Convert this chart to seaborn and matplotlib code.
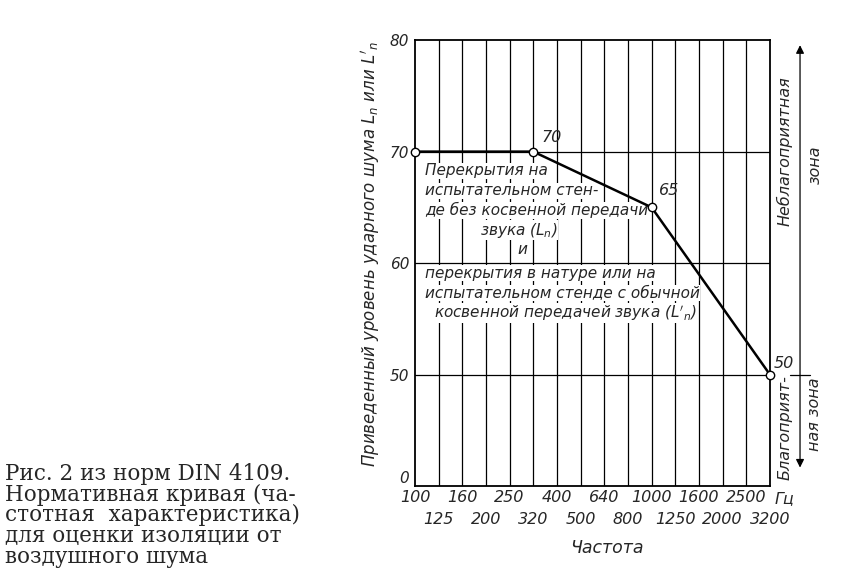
import numpy as np
import pandas as pd
import matplotlib
matplotlib.use("Agg")
import matplotlib.pyplot as plt
import seaborn as sns

# octave-third frequencies shown on the x axis (Hz)
freqs = [100, 125, 160, 200, 250, 320, 400, 500, 640, 800,
         1000, 1250, 1600, 2000, 2500, 3200]
# break points of the reference curve
curve_freqs = [100, 320, 1000, 3200]
curve_levels = [70, 70, 65, 50]
point_labels = ["", "70", "65", "50"]

# y axis: the lowest interval is compressed (0 ... 50)
y_ticks = [40, 50, 60, 70, 80]
y_tick_labels = ["0", "50", "60", "70", "80"]

sns.set_style("white")
plt.rcParams["font.family"] = ["DejaVu Sans"]
plt.rcParams["mathtext.fontset"] = "dejavusans"

df = pd.DataFrame({
    "pos": [freqs.index(f) for f in curve_freqs],
    "level": curve_levels,
})

fig = plt.figure(figsize=(8.46, 5.82), dpi=100)
ax = fig.add_axes([0.4905, 0.165, 0.4195, 0.766])

sns.lineplot(data=df, x="pos", y="level", ax=ax, color="black", linewidth=1.8,
             marker="o", markersize=6, markerfacecolor="white",
             markeredgecolor="black", markeredgewidth=1.0, zorder=5, clip_on=False)

ax.set_xlim(0, len(freqs) - 1)
ax.set_ylim(40, 80)

# x ticks: two rows of labels
pos = np.arange(len(freqs))
even = pos[::2]
odd = pos[1::2]
ax.set_xticks(even)
ax.set_xticklabels([str(freqs[i]) for i in even])
ax.set_xticks(odd, minor=True)
ax.set_xticklabels([str(freqs[i]) for i in odd], minor=True)
ax.tick_params(axis="x", which="major", length=0, pad=3, labelsize=11.5)
ax.tick_params(axis="x", which="minor", length=17, width=0.9, pad=2,
               labelsize=11.5, color="black", direction="out")
for lab in ax.get_xticklabels(which="both"):
    lab.set_fontstyle("italic")

ax.set_yticks(y_ticks)
ax.set_yticklabels(y_tick_labels)
ax.tick_params(axis="y", length=0, pad=4, labelsize=11)
for lab in ax.get_yticklabels():
    lab.set_fontstyle("italic")
ax.get_yticklabels()[0].set_va("bottom")

# grid lines
for p in pos[1:-1]:
    ax.axvline(p, color="black", linewidth=0.9, zorder=1)
for y in [50, 60, 70]:
    ax.axhline(y, color="black", linewidth=0.9, zorder=1)

for s in ax.spines.values():
    s.set_color("black")
    s.set_linewidth(1.3)

ax.set_xlabel("")
ax.set_ylabel("Приведенный уровень ударного шума $L_n$ или $L'_n$",
              fontsize=12, fontstyle="italic")
ax.yaxis.set_label_coords(-0.092, 0.52)

ax.annotate("Частота", xy=(0.54, -0.139), xycoords="axes fraction",
            ha="center", va="center", fontsize=12.5, fontstyle="italic")
ax.annotate("Гц", xy=(1.04, -0.028), xycoords="axes fraction",
            ha="center", va="center", fontsize=11.5, fontstyle="italic")

# point labels
offsets = [(0, 0), (6, 10), (5, 12), (3, 8)]
for f, lv, t, off in zip(curve_freqs, curve_levels, point_labels, offsets):
    if t:
        ax.annotate(t, xy=(freqs.index(f), lv), xytext=off,
                    textcoords="offset points", ha="left", va="center",
                    fontsize=11.5, fontstyle="italic", annotation_clip=False)

# descriptive text in the field
box = dict(facecolor="white", edgecolor="none", pad=0.3)
lines_a = [
    (0.42, 68.3, "left", "Перекрытия на"),
    (0.42, 66.5, "left", "испытательном стен-"),
    (0.42, 64.75, "left", "де без косвенной передачи"),
    (4.4, 62.96, "center", "звука ($L_n$)"),
    (4.55, 61.2, "center", "и"),
    (0.42, 59.1, "left", "перекрытия в натуре или на"),
    (0.42, 57.3, "left", "испытательном стенде с обычной"),
    (0.8, 55.5, "left", "косвенной передачей звука ($L'_n$)"),
]
for x, y, ha, t in lines_a:
    ax.text(x, y, t, ha=ha, va="center", fontsize=11, fontstyle="italic",
            bbox=box, zorder=3)

# zones on the right
ax.annotate("", xy=(1.085, 0.995), xytext=(1.085, 0.035), xycoords="axes fraction",
            arrowprops=dict(arrowstyle="<|-|>", color="black", lw=0.9,
                            mutation_scale=12))
ax.plot([1.056, 1.113], [50, 50], color="black", linewidth=0.9,
        transform=ax.get_yaxis_transform(), clip_on=False)
zone_txt = [
    (1.042, 0.75, "Неблагоприятная"),
    (1.127, 0.72, "зона"),
    (1.042, 0.13, "Благоприят-"),
    (1.127, 0.16, "ная зона"),
]
for x, y, t in zone_txt:
    ax.annotate(t, xy=(x, y), xycoords="axes fraction", rotation=90,
                ha="center", va="center", fontsize=11.5, fontstyle="italic")

# caption
fig.text(0.006, 0.205,
         "Рис. 2 из норм DIN 4109.\nНормативная кривая (ча-\n"
         "стотная  характеристика)\nдля оценки изоляции от\nвоздушного шума",
         ha="left", va="top", fontsize=15.5, linespacing=0.93,
         family=["DejaVu Serif"])

fig.savefig("out.png", dpi=100)
